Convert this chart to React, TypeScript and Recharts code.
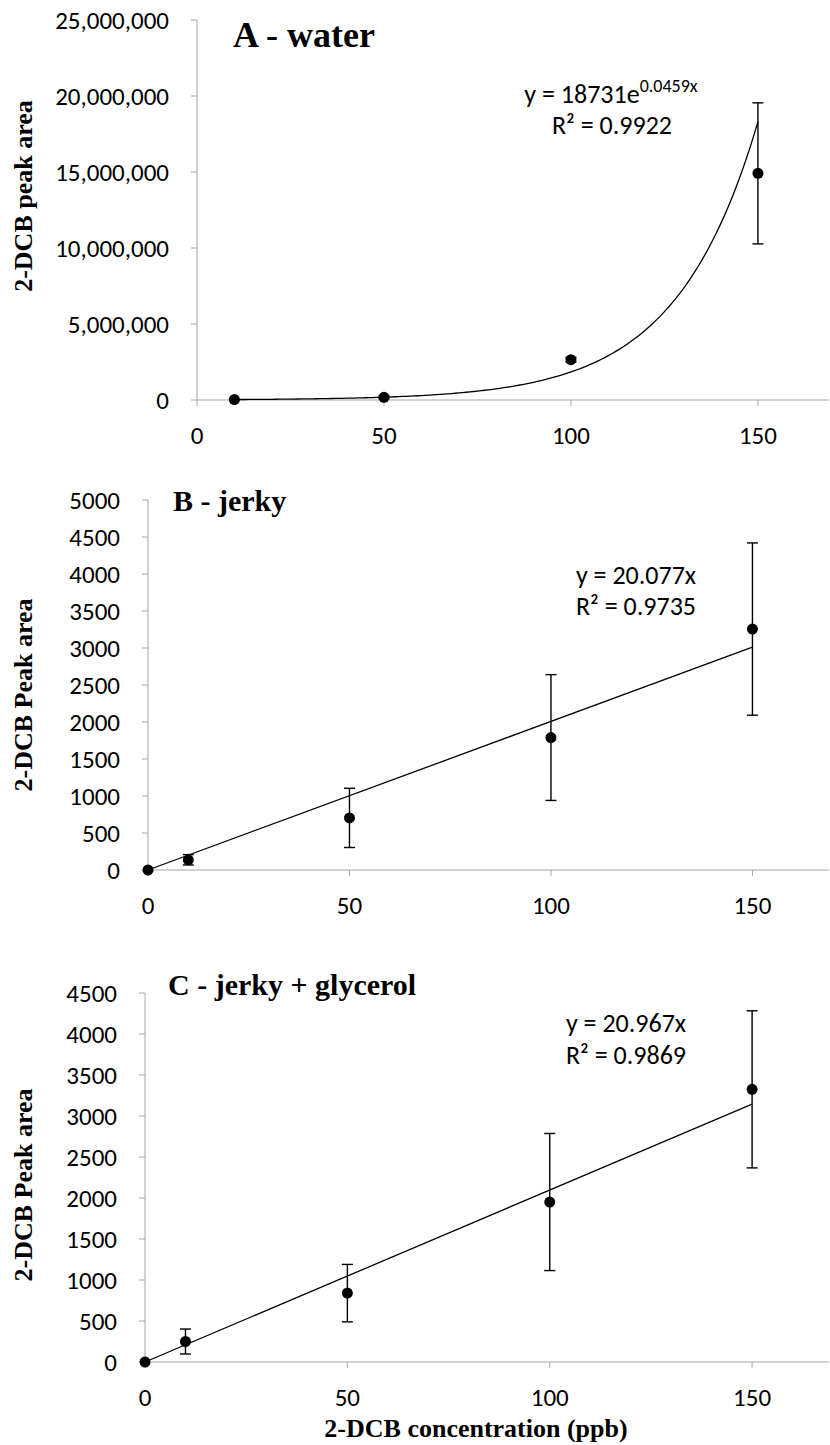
import React from 'react';
import { ComposedChart, Scatter, XAxis, YAxis, ErrorBar } from 'recharts';

// spiked 2-DCB concentration (ppb), mean peak area and standard deviation per matrix
const concWater = [10, 50, 100, 150];
const areaWater = [30000, 178000, 2650000, 14910000];
const sdWater = [25000, 90000, 150000, 4640000];

const concJerky = [0, 10, 50, 100, 150];
const areaJerky = [0, 138, 704, 1790, 3256];
const sdJerky = [0, 70, 400, 850, 1164];

const concGlycerol = [0, 10, 50, 100, 150];
const areaGlycerol = [0, 250, 840, 1951, 3325];
const sdGlycerol = [0, 152, 350, 836, 958];

const xTicks = [0, 50, 100, 150];
const yTicksWater = [0, 5000000, 10000000, 15000000, 20000000, 25000000];
const yTicksJerky = [0, 500, 1000, 1500, 2000, 2500, 3000, 3500, 4000, 4500, 5000];
const yTicksGlycerol = [0, 500, 1000, 1500, 2000, 2500, 3000, 3500, 4000, 4500];

// fitted trendlines as printed on each panel
const expFitWater = { a: 18731, b: 0.0459 }; // y = a e^(bx)
const slopeJerky = 20.077;
const slopeGlycerol = 20.967;

const sans = 'Carlito, Lato, sans-serif';
const serif = "'Liberation Serif', 'Times New Roman', serif";
const axisGrey = '#a6a6a6';

type Pt = { x: number; y: number; sd?: number };

const toPoints = (xs: number[], ys: number[], sd: number[]): Pt[] =>
  xs.map((x, i) => ({ x, y: ys[i], sd: sd[i] }));

// exponential fit drawn across the measured range, one step per ppb
const trendWater: Pt[] = [];
for (let x = concWater[0]; x <= concWater[concWater.length - 1]; x++) {
  trendWater.push({ x, y: expFitWater.a * Math.exp(expFitWater.b * x) });
}
const linearTrend = (xs: number[], k: number): Pt[] => [
  { x: xs[0], y: k * xs[0] },
  { x: xs[xs.length - 1], y: k * xs[xs.length - 1] },
];

const Dot = (p: any) => <circle cx={p.cx} cy={p.cy} r={5.5} fill="#000" />;
const NoDot = () => <g />;

type PanelProps = {
  top: number;
  height: number;
  margin: { top: number; right: number; bottom: number; left: number };
  yMax: number;
  yTicks: number[];
  fmt?: (v: number) => string;
  points: Pt[];
  trend: Pt[];
};

const tickStyle = { fill: '#000', fontSize: 25, fontFamily: sans };

const Panel = ({ top, height, margin, yMax, yTicks, fmt, points, trend }: PanelProps) => (
  <div style={{ position: 'absolute', left: 0, top }}>
    <ComposedChart width={830} height={height} margin={margin}>
      <XAxis
        type="number"
        dataKey="x"
        domain={[0, 169]}
        ticks={xTicks}
        interval={0}
        height={40}
        stroke={axisGrey}
        tickSize={6}
        tickMargin={20}
        tick={tickStyle}
      />
      <YAxis
        type="number"
        dataKey="y"
        domain={[0, yMax]}
        ticks={yTicks}
        interval={0}
        width={80}
        stroke={axisGrey}
        tickSize={6}
        tickMargin={22}
        tickFormatter={fmt}
        tick={tickStyle}
      />
      <Scatter
        data={trend}
        line={{ stroke: '#000', strokeWidth: 1.3 }}
        shape={NoDot}
        isAnimationActive={false}
      />
      <Scatter data={points} shape={Dot} isAnimationActive={false}>
        <ErrorBar dataKey="sd" direction="y" width={5.5} stroke="#000" strokeWidth={1.4} />
      </Scatter>
    </ComposedChart>
  </div>
);

export default function App() {
  return (
    <div style={{ position: 'absolute', left: 0, top: 0, width: 830, height: 1445, background: '#fff' }}>
      <Panel
        top={0}
        height={460}
        margin={{ top: 20, right: 1, bottom: 20, left: 117 }}
        yMax={25000000}
        yTicks={yTicksWater}
        fmt={(v) => v.toLocaleString('en-US')}
        points={toPoints(concWater, areaWater, sdWater)}
        trend={trendWater}
      />
      <Panel
        top={460}
        height={470}
        margin={{ top: 40, right: 1, bottom: 20, left: 68 }}
        yMax={5000}
        yTicks={yTicksJerky}
        points={toPoints(concJerky, areaJerky, sdJerky)}
        trend={linearTrend(concJerky, slopeJerky)}
      />
      <Panel
        top={950}
        height={495}
        margin={{ top: 43, right: 1, bottom: 43, left: 65 }}
        yMax={4500}
        yTicks={yTicksGlycerol}
        points={toPoints(concGlycerol, areaGlycerol, sdGlycerol)}
        trend={linearTrend(concGlycerol, slopeGlycerol)}
      />

      <svg
        width={830}
        height={1445}
        style={{ position: 'absolute', left: 0, top: 0, pointerEvents: 'none' }}
      >
        {/* panel titles */}
        <text x={233} y={47} fontFamily={serif} fontWeight="bold" fontSize={36}>A - water</text>
        <text x={173} y={511} fontFamily={serif} fontWeight="bold" fontSize={30}>B - jerky</text>
        <text x={168} y={995} fontFamily={serif} fontWeight="bold" fontSize={30}>C - jerky + glycerol</text>

        {/* trendline equations */}
        <g fontFamily={sans} fontSize={26} fill="#000" textAnchor="middle">
          <text x={611} y={103}>
            y = 18731e<tspan fontSize={18} dy={-11}>0.0459x</tspan>
          </text>
          <text x={612} y={134}>R² = 0.9922</text>
          <text x={636} y={584}>y = 20.077x</text>
          <text x={636} y={615}>R² = 0.9735</text>
          <text x={626} y={1032}>y = 20.967x</text>
          <text x={626} y={1064}>R² = 0.9869</text>
        </g>

        {/* axis titles */}
        <g fontFamily={serif} fontWeight="bold" fontSize={26} fill="#000" textAnchor="middle">
          <text transform="translate(32,196) rotate(-90)">2-DCB peak area</text>
          <text transform="translate(32,695) rotate(-90)">2-DCB Peak area</text>
          <text transform="translate(32,1185) rotate(-90)">2-DCB Peak area</text>
          <text x={476} y={1437}>2-DCB concentration (ppb)</text>
        </g>
      </svg>
    </div>
  );
}
